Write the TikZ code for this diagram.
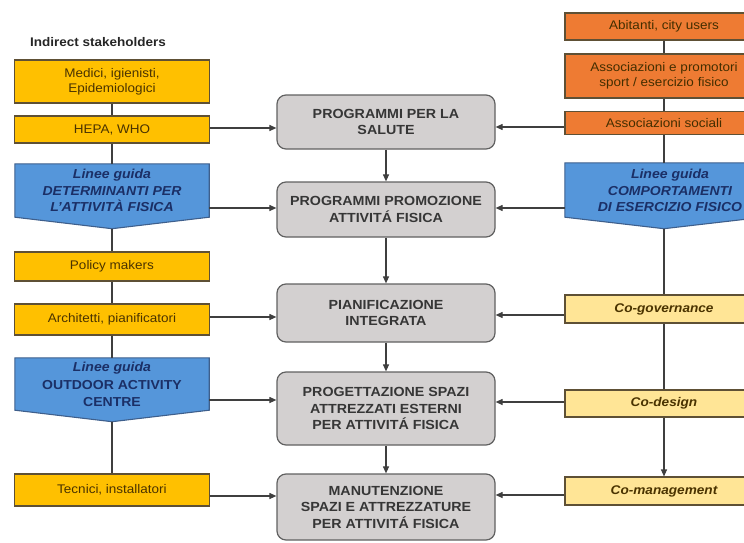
\documentclass[tikz,border=0pt]{standalone}
\usepackage{fontspec}
\setmainfont{Liberation Sans}[FakeStretch=1.08]
\usetikzlibrary{arrows.meta,backgrounds,calc}
\definecolor{gold}{HTML}{FFC000}
\definecolor{orng}{HTML}{EE7B33}
\definecolor{bluef}{HTML}{5596DA}
\definecolor{bluedge}{HTML}{3E5F8C}
\definecolor{lyel}{HTML}{FFE596}
\definecolor{greyf}{HTML}{D3D0D0}
\definecolor{navy}{HTML}{1B2F66}
\definecolor{brn}{HTML}{4A3300}
\definecolor{edge}{HTML}{5E5035}
\definecolor{lin}{HTML}{3F3F3F}
\definecolor{ctext}{HTML}{363636}
\begin{document}
\begin{tikzpicture}[x=1pt,y=-1pt,
  base/.style={draw=edge, line width=1.1pt, inner sep=0pt, align=center,
    font=\fontsize{12.5}{15}\selectfont},
  goldbox/.style={base, fill=gold, text=brn, minimum width=195pt},
  orbox/.style={base, fill=orng, text=brn!90!black, minimum width=198pt},
  lybox/.style={base, fill=lyel, text=brn, minimum width=198pt,
    font=\fontsize{12.6}{15}\selectfont\bfseries\itshape},
  bluebox/.style={inner sep=0pt, align=center, text=navy,
    font=\fontsize{13}{16.5}\selectfont\bfseries},
  cbox/.style={draw=black!62, line width=1.2pt, fill=greyf, rounded corners=9pt,
    text=ctext, align=center, inner sep=0pt, minimum width=218pt,
    font=\fontsize{13.2}{16.5}\selectfont\bfseries},
  ln/.style={draw=lin, line width=1.1pt},
  arr/.style={ln, -{Triangle[length=7pt,width=6pt]}},
  pent/.style={fill=bluef, draw=bluedge, line width=1.1pt}
]
\useasboundingbox (0,0) rectangle (744,543);
\clip (0,0) rectangle (744,543);

% title
\node[anchor=west, inner sep=0pt, text=black!85, font=\fontsize{12.5}{15}\selectfont\bfseries] (title) at (30,42) {Indirect stakeholders};

% left column
\node[goldbox, minimum height=43pt] (med) at (112,81.5) {Medici, igienisti,\\Epidemiologici};
\node[goldbox, minimum height=27pt] (hepa) at (112,129.5) {HEPA, WHO};
\node[bluebox, minimum width=194pt, minimum height=53pt] (bl1) at (112,190.5)
  {\itshape Linee guida\\\itshape DETERMINANTI PER\\\itshape L'ATTIVITÀ FISICA};
\node[goldbox, minimum height=29pt] (pol) at (112,266.5) {Policy makers};
\node[goldbox, minimum height=31pt] (arch) at (112,319.5) {Architetti, pianificatori};
\node[bluebox, minimum width=194pt, minimum height=52pt] (bl2) at (112,384)
  {\itshape Linee guida\\[2pt]OUTDOOR ACTIVITY\\CENTRE};
\node[goldbox, minimum height=32pt] (tec) at (112,490) {Tecnici, installatori};

% right column
\node[orbox, minimum height=27pt] (abi) at (664,26.5) {Abitanti, city users};
\node[orbox, minimum height=44pt] (aes) at (664,76) {Associazioni e promotori\\sport / esercizio fisico};
\node[orbox, minimum height=23pt] (aso) at (664,123) {Associazioni sociali};
\node[bluebox, minimum width=198pt, minimum height=54pt] (blr) at (664,190) {};
\node[bluebox, align=center] (blrt) at (670,190.5)
  {\itshape Linee guida\\\itshape COMPORTAMENTI\\\itshape DI ESERCIZIO FISICO};
\node[lybox, minimum height=28pt] (cog) at (664,309) {Co-governance};
\node[lybox, minimum height=27pt] (cod) at (664,403.5) {Co-design};
\node[lybox, minimum height=28pt] (com) at (664,491) {Co-management};

% center column
\node[cbox, minimum height=54pt] (p1) at (386,122) {PROGRAMMI PER LA\\SALUTE};
\node[cbox, minimum height=55pt] (p2) at (386,209.5) {PROGRAMMI PROMOZIONE\\ATTIVITÁ FISICA};
\node[cbox, minimum height=58pt] (p3) at (386,313) {PIANIFICAZIONE\\INTEGRATA};
\node[cbox, minimum height=73pt] (p4) at (386,408.5) {PROGETTAZIONE SPAZI\\ATTREZZATI ESTERNI\\PER ATTIVITÁ FISICA};
\node[cbox, minimum height=66pt] (p5) at (386,507) {MANUTENZIONE\\SPAZI E ATTREZZATURE\\PER ATTIVITÁ FISICA};

% pentagon shapes behind the blue texts
\begin{scope}[on background layer]
  \foreach \n in {bl1,bl2,blr}
    \path[pent] (\n.north west) -- (\n.north east) -- (\n.south east)
      -- ($(\n.south)+(0,11.5)$) -- (\n.south west) -- cycle;
\end{scope}

% left column verticals
\draw[ln] (med.south) -- (hepa.north);
\draw[ln] (hepa.south) -- (bl1.north);
\draw[ln] ($(bl1.south)+(0,11.5)$) -- (pol.north);
\draw[ln] (pol.south) -- (arch.north);
\draw[ln] (arch.south) -- (bl2.north);
\draw[ln] ($(bl2.south)+(0,11.5)$) -- (tec.north);

% right column verticals
\draw[ln] (abi.south) -- (aes.north);
\draw[ln] (aes.south) -- (aso.north);
\draw[ln] (aso.south) -- (blr.north);
\draw[ln] ($(blr.south)+(0,11.5)$) -- (cog.north);
\draw[ln] (cog.south) -- (cod.north);
\draw[arr] (cod.south) -- (com.north);

% center verticals
\draw[arr] (p1.south) -- (p2.north);
\draw[arr] (p2.south) -- (p3.north);
\draw[arr] (p3.south) -- (p4.north);
\draw[arr] (p4.south) -- (p5.north);

% left horizontals
\draw[arr] (hepa.east |- 0,128) -- (p1.west |- 0,128);
\draw[arr] (bl1.east |- 0,208) -- (p2.west |- 0,208);
\draw[arr] (arch.east |- 0,317) -- (p3.west |- 0,317);
\draw[arr] (bl2.east |- 0,400) -- (p4.west |- 0,400);
\draw[arr] (tec.east |- 0,496) -- (p5.west |- 0,496);

% right horizontals
\draw[arr] (aso.west |- 0,127) -- (p1.east |- 0,127);
\draw[arr] (blr.west |- 0,208) -- (p2.east |- 0,208);
\draw[arr] (cog.west |- 0,315) -- (p3.east |- 0,315);
\draw[arr] (cod.west |- 0,402) -- (p4.east |- 0,402);
\draw[arr] (com.west |- 0,495) -- (p5.east |- 0,495);
\end{tikzpicture}
\end{document}
